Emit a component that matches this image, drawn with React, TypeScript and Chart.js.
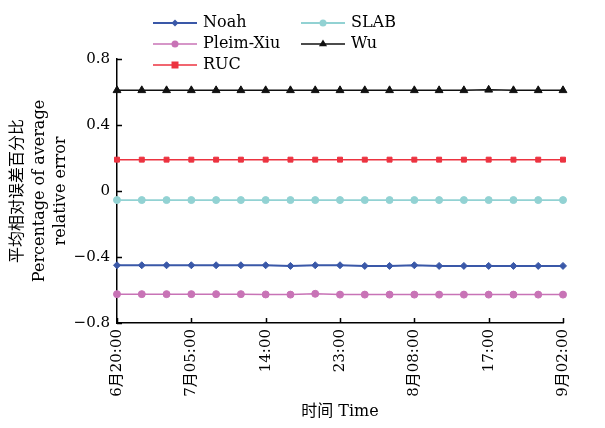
import React, { useEffect, useRef } from "react";
import { Chart, registerables } from "chart.js";

Chart.register(...registerables);

const timeLabels = [
  "6月20:00", "23:00", "02:00", "7月05:00", "08:00", "11:00", "14:00",
  "17:00", "20:00", "23:00", "02:00", "05:00", "8月08:00", "11:00",
  "14:00", "17:00", "20:00", "23:00", "9月02:00",
];

const noah = [-0.45, -0.45, -0.45, -0.45, -0.45, -0.45, -0.45, -0.454, -0.45, -0.45, -0.454, -0.454, -0.45, -0.454, -0.454, -0.454, -0.454, -0.454, -0.454];
const pleimXiu = [-0.625, -0.625, -0.625, -0.625, -0.625, -0.625, -0.627, -0.628, -0.623, -0.628, -0.628, -0.628, -0.628, -0.628, -0.628, -0.628, -0.628, -0.628, -0.628];
const ruc = [0.19, 0.19, 0.19, 0.19, 0.19, 0.19, 0.19, 0.19, 0.19, 0.19, 0.19, 0.19, 0.19, 0.19, 0.19, 0.19, 0.19, 0.19, 0.19];
const slab = [-0.055, -0.055, -0.055, -0.055, -0.055, -0.055, -0.055, -0.055, -0.055, -0.055, -0.055, -0.055, -0.055, -0.055, -0.055, -0.055, -0.055, -0.055, -0.055];
const wu = [0.61, 0.61, 0.61, 0.61, 0.61, 0.61, 0.61, 0.61, 0.61, 0.61, 0.61, 0.61, 0.61, 0.61, 0.61, 0.613, 0.61, 0.61, 0.61];

const yTicks = [-0.8, -0.4, 0, 0.4, 0.8];
const labelEvery = 3;

const FONT = "'DejaVu Serif', 'Noto Sans CJK SC', serif";

// legend layout: [x of line start, y] per dataset
const legendSlots = [
  [153, 23],
  [153, 44],
  [153, 65],
  [301, 23],
  [301, 44],
];

const inwardTicks = {
  id: "inwardTicks",
  afterDatasetsDraw(chart: any) {
    const { ctx, scales } = chart;
    const x = scales.x;
    const y = scales.y;
    ctx.save();
    ctx.strokeStyle = "#000";
    ctx.lineWidth = 1.5;
    ctx.beginPath();
    yTicks.forEach((v) => {
      const py = Math.round(y.getPixelForValue(v)) + 0.5;
      ctx.moveTo(x.left, py);
      ctx.lineTo(x.left + 5, py);
    });
    timeLabels.forEach((_, i) => {
      if (i % labelEvery !== 0) return;
      const px = Math.round(x.getPixelForValue(i)) + 0.5;
      ctx.moveTo(px, y.bottom);
      ctx.lineTo(px, y.bottom - 5);
    });
    ctx.stroke();
    ctx.restore();
  },
};

function drawPointShape(ctx: any, style: string, r: number, x: number, y: number) {
  ctx.beginPath();
  if (style === "rect") {
    ctx.rect(x - r, y - r, 2 * r, 2 * r);
  } else if (style === "rectRot") {
    ctx.moveTo(x, y - r);
    ctx.lineTo(x + r, y);
    ctx.lineTo(x, y + r);
    ctx.lineTo(x - r, y);
    ctx.closePath();
  } else if (style === "triangle") {
    ctx.moveTo(x, y - r);
    ctx.lineTo(x + r * 0.9, y + r * 0.5);
    ctx.lineTo(x - r * 0.9, y + r * 0.5);
    ctx.closePath();
  } else {
    ctx.arc(x, y, r, 0, Math.PI * 2);
  }
  ctx.fill();
}

const customLegend = {
  id: "customLegend",
  afterDraw(chart: any) {
    const { ctx } = chart;
    ctx.save();
    chart.data.datasets.forEach((ds: any, i: number) => {
      const [lx, ly] = legendSlots[i];
      ctx.strokeStyle = ds.borderColor;
      ctx.lineWidth = ds.borderWidth;
      ctx.beginPath();
      ctx.moveTo(lx, ly);
      ctx.lineTo(lx + 44, ly);
      ctx.stroke();
      ctx.fillStyle = ds.pointBackgroundColor;
      drawPointShape(ctx, ds.pointStyle, ds.pointRadius, lx + 22, ly);
      ctx.fillStyle = "#000";
      ctx.font = `16px ${FONT}`;
      ctx.textBaseline = "middle";
      ctx.textAlign = "left";
      ctx.fillText(ds.label, lx + 50, ly);
    });
    ctx.restore();
  },
};

export default function App() {
  const ref = useRef<HTMLCanvasElement>(null);

  useEffect(() => {
    document.body.style.margin = "0";
    const mk = (label: string, data: number[], color: string, style: string, radius: number, width: number) => ({
      label,
      data,
      borderColor: color,
      backgroundColor: color,
      pointBackgroundColor: color,
      pointBorderColor: color,
      pointStyle: style,
      pointRadius: radius,
      pointBorderWidth: 1,
      borderWidth: width,
      tension: 0,
      clip: false as any,
    });
    const chart = new Chart(ref.current as HTMLCanvasElement, {
      type: "line",
      data: {
        labels: timeLabels,
        datasets: [
          mk("Noah", noah, "#3a58a8", "rectRot", 3.5, 2),
          mk("Pleim-Xiu", pleimXiu, "#c873b6", "circle", 3.5, 1.5),
          mk("RUC", ruc, "#ec3340", "rect", 3.5, 1.5),
          mk("SLAB", slab, "#92d2d3", "circle", 3.5, 1.8),
          mk("Wu", wu, "#111111", "triangle", 4.5, 1.5),
        ] as any,
      },
      options: {
        animation: false,
        responsive: false,
        events: [],
        layout: { padding: { left: 0, top: 59, right: 42, bottom: 0 } },
        plugins: {
          legend: { display: false },
          tooltip: { enabled: false },
        },
        scales: {
          x: {
            type: "category",
            offset: false,
            grid: { display: true, drawOnChartArea: false, drawTicks: false, color: "transparent" },
            border: { display: true, color: "#000", width: 1.5 },
            ticks: {
              autoSkip: false,
              maxRotation: 90,
              minRotation: 90,
              padding: 6,
              color: "#000",
              font: { family: FONT, size: 15 },
              callback: (_v: any, i: number) => (i % labelEvery === 0 ? timeLabels[i] : ""),
            },
            title: {
              display: true,
              text: "时间 Time",
              color: "#000",
              font: { family: FONT, size: 16, lineHeight: 1.35 },
              padding: { top: 0, bottom: 5 },
            },
            afterFit: (s: any) => {
              s.height = 105;
            },
          },
          y: {
            min: -0.8,
            max: 0.8,
            grid: { display: true, drawOnChartArea: false, drawTicks: false, color: "transparent" },
            border: { display: true, color: "#000", width: 1.5 },
            afterBuildTicks: (s: any) => {
              s.ticks = yTicks.map((v) => ({ value: v }));
            },
            ticks: {
              padding: 7,
              color: "#000",
              font: { family: FONT, size: 15 },
              callback: (v: any) => {
                const n = Number(v);
                if (Math.abs(n) < 1e-9) return "0";
                return (n < 0 ? "\u2212" : "") + Math.abs(n).toFixed(1);
              },
            },
            title: {
              display: true,
              text: ["平均相对误差百分比", "Percentage of average", "relative error"],
              color: "#000",
              font: { family: FONT, size: 16, lineHeight: 1.35 },
              padding: { top: 7, bottom: 0 },
            },
            afterFit: (s: any) => {
              s.width = 117;
            },
          },
        },
      },
      plugins: [inwardTicks, customLegend],
    });
    return () => chart.destroy();
  }, []);

  return (
    <div style={{ position: "fixed", left: 0, top: 0, width: 605, height: 428, background: "#fff" }}>
      <canvas ref={ref} width={605} height={428} style={{ width: 605, height: 428 }} />
    </div>
  );
}
